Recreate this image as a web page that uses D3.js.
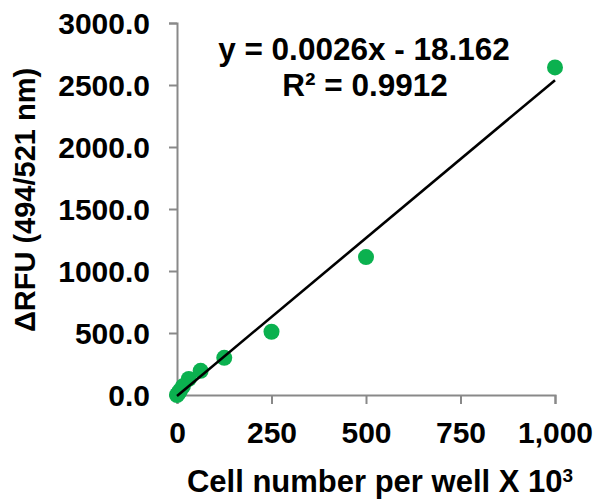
<!DOCTYPE html>
<html>
<head>
<meta charset="utf-8">
<script src="https://cdn.jsdelivr.net/npm/d3@7"></script>
<style>
  html, body { margin: 0; padding: 0; background: #fff; }
  svg { display: block; }
  text { font-family: "Liberation Sans", Arial, sans-serif; font-weight: bold; fill: #000; }
</style>
</head>
<body>
<svg id="chart" width="597" height="502"></svg>
<script>
// Data (cell number per well, x10^3) and ΔRFU (494/521 nm)
const cells = [0, 3.9, 7.8, 15.6, 31.25, 62.5, 125, 250, 500, 1000];
const rfu = [0, 15, 35, 70, 130, 195, 300, 510, 1112, 2642];
const xTicks = [0, 250, 500, 750, 1000];
const yTicks = [0, 500, 1000, 1500, 2000, 2500, 3000];
const equationLines = ["y = 0.0026x - 18.162", "R² = 0.9912"];
const xTitle = "Cell number per well X 10";
const xTitleSup = "3";
const yTitle = "ΔRFU (494/521 nm)";

const svg = d3.select("#chart");
const x = d3.scaleLinear().domain([0, 1000]).range([177, 555]);
const y = d3.scaleLinear().domain([0, 3000]).range([395, 23]);
const axisColor = "#898989";

// Y axis
const gy = svg.append("g").attr("transform", `translate(${x(0)},0)`)
  .call(d3.axisLeft(y).tickValues(yTicks).tickFormat(d3.format(".1f")).tickSize(8).tickPadding(19));
gy.selectAll("path, line").attr("stroke", axisColor).attr("stroke-width", 2);
gy.selectAll("text").style("font-size", "30px").attr("dy", "0.36em");

// X axis
const gx = svg.append("g").attr("transform", `translate(0,${y(0)})`)
  .call(d3.axisBottom(x).tickValues(xTicks).tickFormat(d3.format(",")).tickSize(9).tickPadding(18));
gx.selectAll("path, line").attr("stroke", axisColor).attr("stroke-width", 2);
gx.selectAll("text").style("font-size", "30px");

// Trendline (least squares fit of the data)
const mx = d3.mean(cells), my = d3.mean(rfu);
const slope = d3.sum(cells.map((c, i) => (c - mx) * (rfu[i] - my))) / d3.sum(cells.map(c => (c - mx) ** 2));
const intercept = my - slope * mx;
const xExt = d3.extent(cells);

// Points
svg.append("g").selectAll("circle").data(cells).join("circle")
  .attr("cx", d => x(d)).attr("cy", (d, i) => y(rfu[i]))
  .attr("r", 8).attr("fill", "#0BB14F");

// Trendline drawn on top of points
svg.append("line")
  .attr("x1", x(xExt[0])).attr("y1", y(slope * xExt[0] + intercept))
  .attr("x2", x(xExt[1])).attr("y2", y(slope * xExt[1] + intercept))
  .attr("stroke", "#000").attr("stroke-width", 2.6);

// Equation
svg.append("text").attr("x", 364).attr("y", 60).attr("text-anchor", "middle")
  .style("font-size", "31.5px").text(equationLines[0]);
svg.append("text").attr("x", 365).attr("y", 96).attr("text-anchor", "middle")
  .style("font-size", "31.5px").text(equationLines[1]);

// X title
const xt = svg.append("text").attr("x", 380).attr("y", 492).attr("text-anchor", "middle")
  .style("font-size", "31px");
xt.append("tspan").text(xTitle);
xt.append("tspan").attr("dy", "-0.55em").style("font-size", "19px").text(xTitleSup);

// Y title
svg.append("text").attr("transform", "translate(35,200) rotate(-90)")
  .attr("text-anchor", "middle").style("font-size", "29px").text(yTitle);
</script>
</body>
</html>
